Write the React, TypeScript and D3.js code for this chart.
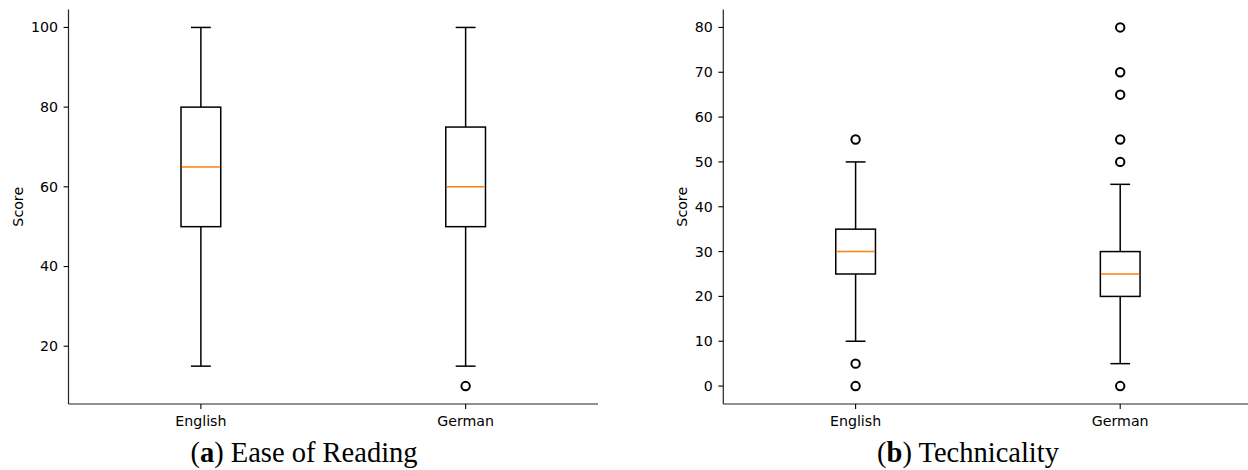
import React from "react";
import * as d3 from "d3";

const categories = ["English", "German"];

// Panel (a) Ease of Reading: [low whisker, Q1, median, Q3, high whisker]
const easeStats = [
  [15, 50, 65, 80, 100],
  [15, 50, 60, 75, 100],
];
const easeOutliers = [[], [10]];
const easeTicks = [20, 40, 60, 80, 100];

// Panel (b) Technicality
const techStats = [
  [10, 25, 30, 35, 50],
  [5, 20, 25, 30, 45],
];
const techOutliers = [
  [55, 5, 0],
  [80, 70, 65, 55, 50, 0],
];
const techTicks = [0, 10, 20, 30, 40, 50, 60, 70, 80];

const FONT = "DejaVu Sans";
const FS = 14.2;
const TOP = 9.5;
const BOTTOM = 404;

type PanelProps = {
  left: number;
  right: number;
  domain: [number, number];
  stats: number[][];
  outliers: number[][];
  ticks: number[];
  scoreX: number;
  captionX: number;
  letter: string;
  title: string;
};

function Panel({ left, right, domain, stats, outliers, ticks, scoreX, captionX, letter, title }: PanelProps) {
  const y = d3.scaleLinear().domain(domain).range([BOTTOM, TOP]);
  const x = d3.scaleLinear().domain([0.5, 2.5]).range([left, right]);
  const unit = x(1) - x(0);
  const boxW = 0.15 * unit;
  const capW = boxW / 2;
  const lw = 1.5;
  return (
    <g>
      <line x1={left} x2={left} y1={TOP} y2={BOTTOM} stroke="#222" strokeWidth={1.2} />
      <line x1={left} x2={right} y1={BOTTOM} y2={BOTTOM} stroke="#222" strokeWidth={1.2} />
      {ticks.map((t) => (
        <g key={t}>
          <line x1={left - 4.9} x2={left} y1={y(t)} y2={y(t)} stroke="#000" strokeWidth={1.1} />
          <text x={left - 10.5} y={y(t)} dy="0.35em" textAnchor="end" fontFamily={FONT} fontSize={FS} fill="#000">
            {t}
          </text>
        </g>
      ))}
      {categories.map((c, i) => (
        <g key={c}>
          <line x1={x(i + 1)} x2={x(i + 1)} y1={BOTTOM} y2={BOTTOM + 4.9} stroke="#000" strokeWidth={1.1} />
          <text x={x(i + 1)} y={426} textAnchor="middle" fontFamily={FONT} fontSize={FS} fill="#000">
            {c}
          </text>
        </g>
      ))}
      <text
        transform={`translate(${scoreX},${(TOP + BOTTOM) / 2}) rotate(-90)`}
        textAnchor="middle"
        fontFamily={FONT}
        fontSize={FS}
        fill="#000"
      >
        Score
      </text>
      {stats.map((s, i) => {
        const cx = x(i + 1);
        const [lo, q1, med, q3, hi] = s;
        return (
          <g key={i}>
            <line x1={cx} x2={cx} y1={y(q1)} y2={y(lo)} stroke="#000" strokeWidth={lw} />
            <line x1={cx} x2={cx} y1={y(q3)} y2={y(hi)} stroke="#000" strokeWidth={lw} />
            <line x1={cx - capW / 2} x2={cx + capW / 2} y1={y(lo)} y2={y(lo)} stroke="#000" strokeWidth={lw} />
            <line x1={cx - capW / 2} x2={cx + capW / 2} y1={y(hi)} y2={y(hi)} stroke="#000" strokeWidth={lw} />
            <rect
              x={cx - boxW / 2}
              y={y(q3)}
              width={boxW}
              height={y(q1) - y(q3)}
              fill="none"
              stroke="#000"
              strokeWidth={lw}
            />
            <line x1={cx - boxW / 2 + 0.75} x2={cx + boxW / 2 - 0.75} y1={y(med)} y2={y(med)} stroke="#ff7f0e" strokeWidth={lw} />
            {outliers[i].map((o, j) => (
              <circle key={j} cx={cx} cy={y(o)} r={4.2} fill="none" stroke="#000" strokeWidth={2} />
            ))}
          </g>
        );
      })}
      <text x={captionX} y={461.5} textAnchor="middle" fontFamily="Liberation Serif" fontSize={28.5} fill="#000">
        (<tspan fontWeight="bold">{letter}</tspan>) {title}
      </text>
    </g>
  );
}

export default function App() {
  return (
    <svg
      width={1248}
      height={470}
      style={{ position: "absolute", left: 0, top: 0, background: "#fff" }}
    >
      <rect width={1248} height={470} fill="#fff" />
      <Panel
        left={68.5}
        right={598}
        domain={[5.5, 104.5]}
        stats={easeStats}
        outliers={easeOutliers}
        ticks={easeTicks}
        scoreX={22.5}
        captionX={304}
        letter="a"
        title="Ease of Reading"
      />
      <Panel
        left={723.3}
        right={1252.5}
        domain={[-4, 84]}
        stats={techStats}
        outliers={techOutliers}
        ticks={techTicks}
        scoreX={686.5}
        captionX={968}
        letter="b"
        title="Technicality"
      />
    </svg>
  );
}
